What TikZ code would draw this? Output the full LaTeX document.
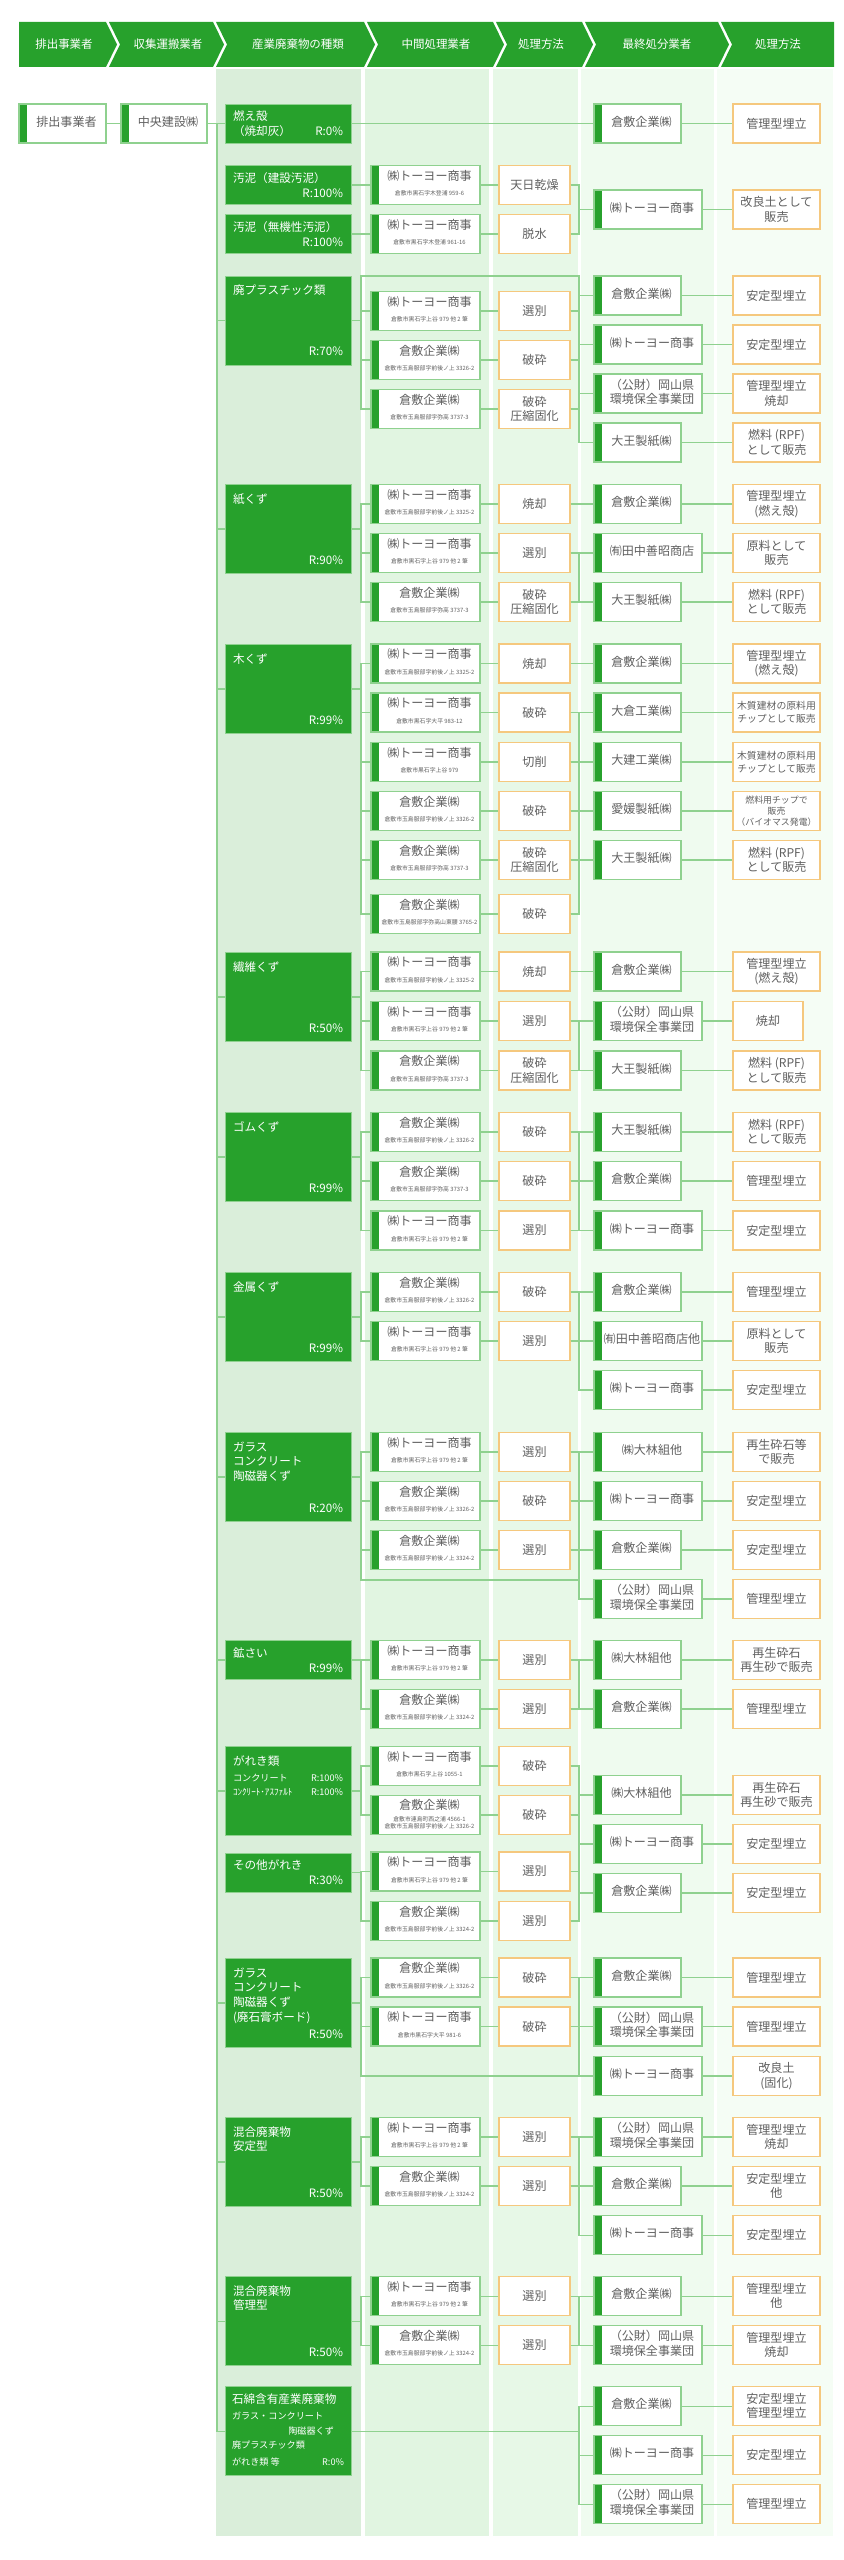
\documentclass[tikz,border=0pt]{standalone}
\usepackage{fontspec}
\setmainfont{Noto Sans CJK JP}
\newlength\pxu
\setlength\pxu{0.03cm}
\definecolor{dgreen}{HTML}{27A12C}
\definecolor{lgreen}{HTML}{8FD18F}
\definecolor{orng}{HTML}{F5C87E}
\definecolor{gtext}{HTML}{606060}
\definecolor{bgA}{HTML}{DAEEDA}
\definecolor{bgB}{HTML}{E1F5E1}
\definecolor{bgC}{HTML}{E7F8E7}
\definecolor{bgD}{HTML}{EFFBEF}
\definecolor{bgE}{HTML}{F5FDF5}
\newcommand\fsz[2]{\fontsize{#1pt}{#2pt}\selectfont}
\newcommand\addr[1]{{\fsz{5}{6}#1}}
\newcommand\firm[2]{\hspace*{8\pxu}\begin{tabular}{@{}c@{}}#1\\[1\pxu]\addr{#2}\end{tabular}}
\newcommand\barred[1]{\hspace*{8\pxu}\begin{tabular}{@{}c@{}}#1\end{tabular}}
\newcommand\ttxt[3]{\parbox[c][#1\pxu][t]{110\pxu}{#2\par\vfill\hspace*{\fill}#3}}
\newcommand\toyo{㈱トーヨー商事}
\newcommand\kura{倉敷企業㈱}
\newcommand\kosai{（公財）岡山県\\環境保全事業団}
\newcommand\adA{倉敷市黒石字上谷 979 他 2 筆}
\newcommand\adB{倉敷市玉島服部字前後ノ上 3326-2}
\newcommand\adC{倉敷市玉島服部字弥高 3737-3}
\newcommand\adD{倉敷市玉島服部字前後ノ上 3325-2}
\newcommand\adE{倉敷市玉島服部字前後ノ上 3324-2}
\begin{document}
\begin{tikzpicture}[x=0.03cm,y=-0.03cm,
  link/.style={draw=lgreen,line width=0.9pt},
  head node/.style={text=white,font=\fsz{9.8}{12}},
  type node/.style={fill=dgreen,draw=lgreen,line width=0.5pt,text=white,inner sep=0pt,minimum width=126\pxu,font=\fsz{9.9}{12.5}},
  tall type/.style={type node,minimum height=89\pxu},
  short type/.style={type node,minimum height=39\pxu},
  firm node/.style={draw=lgreen,fill=white,line width=1pt,inner sep=0pt,minimum height=39\pxu,text=gtext,font=\fsz{10.3}{12.5},
    path picture={\fill[dgreen] (path picture bounding box.south west) rectangle ([xshift=8\pxu]path picture bounding box.north west);}},
  int node/.style={firm node,minimum width=109\pxu},
  narrow node/.style={firm node,minimum width=87\pxu},
  wide node/.style={firm node,minimum width=108\pxu},
  method node/.style={draw=orng,fill=white,line width=1pt,inner sep=0pt,minimum width=71\pxu,minimum height=39\pxu,align=center,text=gtext,font=\fsz{10.3}{12.5}},
  result node/.style={method node,minimum width=87\pxu}]

  \useasboundingbox (0,0) rectangle (844,2560);
  \fill[white] (0,0) rectangle (844,2560);
  \fill[bgA] (216,69) rectangle (361,2536);
  \fill[bgB] (365,69) rectangle (489,2536);
  \fill[bgC] (493,69) rectangle (578,2536);
  \fill[bgD] (581,69) rectangle (714,2536);
  \fill[bgE] (717,69) rectangle (833,2536);

  \fill[dgreen] (19,22) -- (106,22) -- (117,44.5) -- (106,67) -- (19,67) -- cycle;
  \foreach \l/\r in {109/213,216/364,367/493,496/582,585/718}
    \fill[dgreen] (\l,22) -- (\r,22) -- (\r+11,44.5) -- (\r,67) -- (\l,67) -- (\l+11,44.5) -- cycle;
  \fill[dgreen] (721,22) -- (834,22) -- (834,67) -- (721,67) -- (732,44.5) -- cycle;
  \node[head node] (h1) at (64,44.5) {排出事業者};
  \node[head node] (h2) at (168,44.5) {収集運搬業者};
  \node[head node] (h3) at (298,44.5) {産業廃棄物の種類};
  \node[head node] (h4) at (436,44.5) {中間処理業者};
  \node[head node] (h5) at (541,44.5) {処理方法};
  \node[head node] (h6) at (657,44.5) {最終処分業者};
  \node[head node] (h7) at (778,44.5) {処理方法};

  \coordinate (tk) at (217,0);
  \coordinate (tb) at (361,0);
  \coordinate (fb) at (579,0);
  \coordinate (p4) at (361,276);
  \coordinate (p10) at (361,1580);
  \coordinate (p14) at (361,2076);

  \node[narrow node] (s1) at (62.5,123.5) {\barred{排出事業者}};
  \node[firm node,minimum width=86\pxu] (s2) at (164,123.5) {\barred{中央建設㈱}};

  \node[short type] (t1) at (288,123.5) {\parbox[c][25\pxu][t]{110\pxu}{燃え殻\\（焼却灰）\hfill R:0\%}};
  \node[narrow node] (f11) at (637.5,123.5) {\barred{\kura}};
  \node[result node] (r11) at (776.5,123.5) {管理型埋立};

  \node[short type] (t2) at (288,185) {\ttxt{25}{汚泥（建設汚泥）}{R:100\%}};
  \node[short type] (t3) at (288,234) {\ttxt{25}{汚泥（無機性汚泥）}{R:100\%}};
  \node[int node] (i21) at (425.5,185) {\firm{\toyo}{倉敷市黒石字木登浦 959-6}};
  \node[int node] (i31) at (425.5,234) {\firm{\toyo}{倉敷市黒石字木登浦 961-16}};
  \node[method node] (m21) at (534.5,185) {天日乾燥};
  \node[method node] (m31) at (534.5,234) {脱水};
  \node[wide node] (f21) at (648,209.5) {\barred{\toyo}};
  \node[result node] (r21) at (776.5,209.5) {改良土として\\販売};

  \node[tall type] (t4) at (288,320.5) {\ttxt{71}{廃プラスチック類}{R:70\%}};
  \node[int node] (i41) at (425.5,311) {\firm{\toyo}{\adA}};
  \node[int node] (i42) at (425.5,360) {\firm{\kura}{\adB}};
  \node[int node] (i43) at (425.5,409) {\firm{\kura}{\adC}};
  \node[method node] (m41) at (534.5,311) {選別};
  \node[method node] (m42) at (534.5,360) {破砕};
  \node[method node] (m43) at (534.5,409) {破砕\\圧縮固化};
  \node[narrow node] (f41) at (637.5,295.5) {\barred{\kura}};
  \node[wide node] (f42) at (648,344.5) {\barred{\toyo}};
  \node[wide node] (f43) at (648,393.5) {\barred{\kosai}};
  \node[narrow node] (f44) at (637.5,442.5) {\barred{大王製紙㈱}};
  \node[result node] (r41) at (776.5,295.5) {安定型埋立};
  \node[result node] (r42) at (776.5,344.5) {安定型埋立};
  \node[result node] (r43) at (776.5,393.5) {管理型埋立\\焼却};
  \node[result node] (r44) at (776.5,442.5) {燃料 (RPF)\\として販売};

  \node[tall type] (t5) at (288,529) {\ttxt{71}{紙くず}{R:90\%}};
  \node[int node] (i51) at (425.5,504) {\firm{\toyo}{\adD}};
  \node[int node] (i52) at (425.5,553) {\firm{\toyo}{\adA}};
  \node[int node] (i53) at (425.5,602) {\firm{\kura}{\adC}};
  \node[method node] (m51) at (534.5,504) {焼却};
  \node[method node] (m52) at (534.5,553) {選別};
  \node[method node] (m53) at (534.5,602) {破砕\\圧縮固化};
  \node[narrow node] (f51) at (637.5,504) {\barred{\kura}};
  \node[wide node] (f52) at (648,553) {\barred{㈲田中善昭商店}};
  \node[narrow node] (f53) at (637.5,602) {\barred{大王製紙㈱}};
  \node[result node] (r51) at (776.5,504) {管理型埋立\\(燃え殻)};
  \node[result node] (r52) at (776.5,553) {原料として\\販売};
  \node[result node] (r53) at (776.5,602) {燃料 (RPF)\\として販売};

  \node[tall type] (t6) at (288,689) {\ttxt{71}{木くず}{R:99\%}};
  \node[int node] (i61) at (425.5,663.5) {\firm{\toyo}{\adD}};
  \node[int node] (i62) at (425.5,712.5) {\firm{\toyo}{倉敷市黒石字大平 983-12}};
  \node[int node] (i63) at (425.5,762) {\firm{\toyo}{倉敷市黒石字上谷 979}};
  \node[int node] (i64) at (425.5,811) {\firm{\kura}{\adB}};
  \node[int node] (i65) at (425.5,860) {\firm{\kura}{\adC}};
  \node[int node] (i66) at (425.5,914) {\firm{\kura}{倉敷市玉島服部字弥高山東腰 3765-2}};
  \node[method node] (m61) at (534.5,663.5) {焼却};
  \node[method node] (m62) at (534.5,712.5) {破砕};
  \node[method node] (m63) at (534.5,762) {切削};
  \node[method node] (m64) at (534.5,811) {破砕};
  \node[method node] (m65) at (534.5,860) {破砕\\圧縮固化};
  \node[method node] (m66) at (534.5,914) {破砕};
  \node[narrow node] (f61) at (637.5,663.5) {\barred{\kura}};
  \node[narrow node] (f62) at (637.5,712.5) {\barred{大倉工業㈱}};
  \node[narrow node] (f63) at (637.5,762) {\barred{大建工業㈱}};
  \node[narrow node] (f64) at (637.5,811) {\barred{愛媛製紙㈱}};
  \node[narrow node] (f65) at (637.5,860) {\barred{大王製紙㈱}};
  \node[result node] (r61) at (776.5,663.5) {管理型埋立\\(燃え殻)};
  \node[result node,font=\fsz{8.4}{11}] (r62) at (776.5,712.5) {木質建材の原料用\\チップとして販売};
  \node[result node,font=\fsz{8.4}{11}] (r63) at (776.5,762) {木質建材の原料用\\チップとして販売};
  \node[result node,font=\fsz{7.6}{9.5}] (r64) at (776.5,811) {燃料用チップで\\販売\\（バイオマス発電）};
  \node[result node] (r65) at (776.5,860) {燃料 (RPF)\\として販売};

  \node[tall type] (t7) at (288,997) {\ttxt{71}{繊維くず}{R:50\%}};
  \node[int node] (i71) at (425.5,971.5) {\firm{\toyo}{\adD}};
  \node[int node] (i72) at (425.5,1021) {\firm{\toyo}{\adA}};
  \node[int node] (i73) at (425.5,1070.5) {\firm{\kura}{\adC}};
  \node[method node] (m71) at (534.5,971.5) {焼却};
  \node[method node] (m72) at (534.5,1021) {選別};
  \node[method node] (m73) at (534.5,1070.5) {破砕\\圧縮固化};
  \node[narrow node] (f71) at (637.5,971.5) {\barred{\kura}};
  \node[wide node] (f72) at (648,1021) {\barred{\kosai}};
  \node[narrow node] (f73) at (637.5,1070.5) {\barred{大王製紙㈱}};
  \node[result node] (r71) at (776.5,971.5) {管理型埋立\\(燃え殻)};
  \node[result node,minimum width=70\pxu] (r72) at (768,1021) {焼却};
  \node[result node] (r73) at (776.5,1070.5) {燃料 (RPF)\\として販売};

  \node[tall type] (t8) at (288,1157) {\ttxt{71}{ゴムくず}{R:99\%}};
  \node[int node] (i81) at (425.5,1132) {\firm{\kura}{\adB}};
  \node[int node] (i82) at (425.5,1181) {\firm{\kura}{\adC}};
  \node[int node] (i83) at (425.5,1230.5) {\firm{\toyo}{\adA}};
  \node[method node] (m81) at (534.5,1132) {破砕};
  \node[method node] (m82) at (534.5,1181) {破砕};
  \node[method node] (m83) at (534.5,1230.5) {選別};
  \node[narrow node] (f81) at (637.5,1132) {\barred{大王製紙㈱}};
  \node[narrow node] (f82) at (637.5,1181) {\barred{\kura}};
  \node[wide node] (f83) at (648,1230.5) {\barred{\toyo}};
  \node[result node] (r81) at (776.5,1132) {燃料 (RPF)\\として販売};
  \node[result node] (r82) at (776.5,1181) {管理型埋立};
  \node[result node] (r83) at (776.5,1230.5) {安定型埋立};

  \node[tall type] (t9) at (288,1317) {\ttxt{71}{金属くず}{R:99\%}};
  \node[int node] (i91) at (425.5,1292) {\firm{\kura}{\adB}};
  \node[int node] (i92) at (425.5,1341) {\firm{\toyo}{\adA}};
  \node[method node] (m91) at (534.5,1292) {破砕};
  \node[method node] (m92) at (534.5,1341) {選別};
  \node[narrow node] (f91) at (637.5,1292) {\barred{\kura}};
  \node[wide node] (f92) at (648,1341) {\barred{㈲田中善昭商店他}};
  \node[wide node] (f93) at (648,1390) {\barred{\toyo}};
  \node[result node] (r91) at (776.5,1292) {管理型埋立};
  \node[result node] (r92) at (776.5,1341) {原料として\\販売};
  \node[result node] (r93) at (776.5,1390) {安定型埋立};

  \node[tall type] (t10) at (288,1477) {\ttxt{71}{ガラス\\コンクリート\\陶磁器くず}{R:20\%}};
  \node[int node] (i101) at (425.5,1452) {\firm{\toyo}{\adA}};
  \node[int node] (i102) at (425.5,1501) {\firm{\kura}{\adB}};
  \node[int node] (i103) at (425.5,1550) {\firm{\kura}{\adE}};
  \node[method node] (m101) at (534.5,1452) {選別};
  \node[method node] (m102) at (534.5,1501) {破砕};
  \node[method node] (m103) at (534.5,1550) {選別};
  \node[wide node] (f101) at (648,1452) {\barred{㈱大林組他}};
  \node[wide node] (f102) at (648,1501) {\barred{\toyo}};
  \node[narrow node] (f103) at (637.5,1550) {\barred{\kura}};
  \node[wide node] (f104) at (648,1599) {\barred{\kosai}};
  \node[result node] (r101) at (776.5,1452) {再生砕石等\\で販売};
  \node[result node] (r102) at (776.5,1501) {安定型埋立};
  \node[result node] (r103) at (776.5,1550) {安定型埋立};
  \node[result node] (r104) at (776.5,1599) {管理型埋立};

  \node[short type] (t11) at (288,1660) {\ttxt{25}{鉱さい}{R:99\%}};
  \node[int node] (i111) at (425.5,1660) {\firm{\toyo}{\adA}};
  \node[int node] (i112) at (425.5,1709) {\firm{\kura}{\adE}};
  \node[method node] (m111) at (534.5,1660) {選別};
  \node[method node] (m112) at (534.5,1709) {選別};
  \node[narrow node] (f111) at (637.5,1660) {\barred{㈱大林組他}};
  \node[narrow node] (f112) at (637.5,1709) {\barred{\kura}};
  \node[result node] (r111) at (776.5,1660) {再生砕石\\再生砂で販売};
  \node[result node] (r112) at (776.5,1709) {管理型埋立};

  \node[tall type] (t12) at (288,1791) {\parbox[c][71\pxu][t]{110\pxu}{がれき類\\[1pt]
    {\fsz{7.8}{12.5}コンクリート\hfill R:100\%}\\
    {\fsz{7.8}{12.5}ｺﾝｸﾘｰﾄ･ｱｽﾌｧﾙﾄ\hfill R:100\%}}};
  \node[int node] (i121) at (425.5,1766) {\firm{\toyo}{倉敷市黒石字上谷 1055-1}};
  \node[int node] (i122) at (425.5,1815) {\firm{\kura}{\begin{tabular}{@{}c@{}}倉敷市連島町西之浦 4566-1\\\adB\end{tabular}}};
  \node[method node] (m121) at (534.5,1766) {破砕};
  \node[method node] (m122) at (534.5,1815) {破砕};
  \node[short type] (t13) at (288,1872.5) {\ttxt{25}{その他がれき}{R:30\%}};
  \node[int node] (i131) at (425.5,1871.5) {\firm{\toyo}{\adA}};
  \node[int node] (i132) at (425.5,1921) {\firm{\kura}{\adE}};
  \node[method node] (m131) at (534.5,1871.5) {選別};
  \node[method node] (m132) at (534.5,1921) {選別};
  \node[narrow node] (f121) at (637.5,1795) {\barred{㈱大林組他}};
  \node[wide node] (f122) at (648,1844) {\barred{\toyo}};
  \node[narrow node] (f123) at (637.5,1893) {\barred{\kura}};
  \node[result node] (r121) at (776.5,1795) {再生砕石\\再生砂で販売};
  \node[result node] (r122) at (776.5,1844) {安定型埋立};
  \node[result node] (r123) at (776.5,1893) {安定型埋立};

  \node[tall type] (t14) at (288,2003) {\ttxt{71}{ガラス\\コンクリート\\陶磁器くず\\(廃石膏ボード)}{R:50\%}};
  \node[int node] (i141) at (425.5,1977.5) {\firm{\kura}{\adB}};
  \node[int node] (i142) at (425.5,2026.5) {\firm{\toyo}{倉敷市黒石字大平 981-6}};
  \node[method node] (m141) at (534.5,1977.5) {破砕};
  \node[method node] (m142) at (534.5,2026.5) {破砕};
  \node[narrow node] (f141) at (637.5,1977.5) {\barred{\kura}};
  \node[wide node] (f142) at (648,2026.5) {\barred{\kosai}};
  \node[wide node] (f143) at (648,2076) {\barred{\toyo}};
  \node[result node] (r141) at (776.5,1977.5) {管理型埋立};
  \node[result node] (r142) at (776.5,2026.5) {管理型埋立};
  \node[result node] (r143) at (776.5,2076) {改良土\\(固化)};

  \node[tall type] (t15) at (288,2162) {\ttxt{71}{混合廃棄物\\安定型}{R:50\%}};
  \node[int node] (i151) at (425.5,2137) {\firm{\toyo}{\adA}};
  \node[int node] (i152) at (425.5,2186) {\firm{\kura}{\adE}};
  \node[method node] (m151) at (534.5,2137) {選別};
  \node[method node] (m152) at (534.5,2186) {選別};
  \node[wide node] (f151) at (648,2137) {\barred{\kosai}};
  \node[narrow node] (f152) at (637.5,2186) {\barred{\kura}};
  \node[wide node] (f153) at (648,2235) {\barred{\toyo}};
  \node[result node] (r151) at (776.5,2137) {管理型埋立\\焼却};
  \node[result node] (r152) at (776.5,2186) {安定型埋立\\他};
  \node[result node] (r153) at (776.5,2235) {安定型埋立};

  \node[tall type] (t16) at (288,2321) {\ttxt{71}{混合廃棄物\\管理型}{R:50\%}};
  \node[int node] (i161) at (425.5,2296) {\firm{\toyo}{\adA}};
  \node[int node] (i162) at (425.5,2345) {\firm{\kura}{\adE}};
  \node[method node] (m161) at (534.5,2296) {選別};
  \node[method node] (m162) at (534.5,2345) {選別};
  \node[narrow node] (f161) at (637.5,2296) {\barred{\kura}};
  \node[wide node] (f162) at (648,2345) {\barred{\kosai}};
  \node[result node] (r161) at (776.5,2296) {管理型埋立\\他};
  \node[result node] (r162) at (776.5,2345) {管理型埋立\\焼却};

  \node[tall type] (t17) at (288,2431) {\parbox[c][75\pxu][t]{112\pxu}{石綿含有産業廃棄物\\[1.5pt]
    {\fsz{7.8}{12.5}ガラス・コンクリート}\\
    {\fsz{7.8}{12.5}\hspace*{\fill}陶磁器くず\hspace*{10\pxu}}\\
    {\fsz{7.8}{12.5}廃プラスチック類}\\[1.5pt]
    {\fsz{7.8}{12.5}がれき類 等\hfill R:0\%}}};
  \node[narrow node] (f171) at (637.5,2406) {\barred{\kura}};
  \node[wide node] (f172) at (648,2455) {\barred{\toyo}};
  \node[wide node] (f173) at (648,2504) {\barred{\kosai}};
  \node[result node] (r171) at (776.5,2406) {安定型埋立\\管理型埋立};
  \node[result node] (r172) at (776.5,2455) {安定型埋立};
  \node[result node] (r173) at (776.5,2504) {管理型埋立};

  \draw[link] (s1) -- (s2);
  \draw[link] (t1) -- (f11);
  \foreach \t in {t1,t4,t5,t6,t7,t8,t9,t10,t11,t12,t14,t15,t16,t17}
    \draw[link] (s2.east) -- (s2.east -| tk) |- (\t.west);
  \foreach \t/\l in {t2/{i21},t3/{i31},t4/{i41,i42,i43},t5/{i51,i52,i53},t6/{i61,i62,i63,i64,i65,i66},
      t7/{i71,i72,i73},t8/{i81,i82,i83},t9/{i91,i92},t10/{i101,i102,i103},t11/{i111,i112},
      t12/{i121,i122},t13/{i131,i132},t14/{i141,i142},t15/{i151,i152},t16/{i161,i162}}
    {\foreach \i in \l {\draw[link] (\t.east) -- (\t.east -| tb) |- (\i.west);}}
  \foreach \n in {21,31,41,42,43,51,52,53,61,62,63,64,65,66,71,72,73,81,82,83,91,92,
      101,102,103,111,112,121,122,131,132,141,142,151,152,161,162}
    \draw[link] (i\n) -- (m\n);
  \foreach \ms/\fs in {{m21,m31}/{f21},{m41,m42,m43}/{f41,f42,f43,f44},{m52,m53}/{f52,f53},
      {m62,m63,m64,m65,m66}/{f62,f63,f64,f65},{m72,m73}/{f72,f73},{m81,m82,m83}/{f81,f82,f83},
      {m91,m92}/{f91,f92,f93},{m101,m102,m103}/{f101,f102,f103,f104},{m111,m112}/{f111,f112},
      {m121,m122,m131,m132}/{f121,f122,f123},{m141,m142}/{f141,f142,f143},
      {m151,m152}/{f151,f152,f153},{m161,m162}/{f161,f162}}
    {\foreach \m in \ms {\foreach \f in \fs {\draw[link] (\m.east) -- (\m.east -| fb) |- (\f.west);}}}
  \foreach \n in {51,61,71}
    \draw[link] (m\n) -- (f\n);
  \foreach \n in {11,21,41,42,43,44,51,52,53,61,62,63,64,65,71,72,73,81,82,83,91,92,93,
      101,102,103,104,111,112,121,122,123,141,142,143,151,152,153,161,162,171,172,173}
    \draw[link] (f\n) -- (r\n);
  \draw[link] (t4.east) -- (t4.east -| tb) -- (p4) -- (p4 -| fb) |- (f41.west);
  \draw[link] (t10.east) -- (t10.east -| tb) -- (p10) -- (p10 -| fb) |- (f104.west);
  \draw[link] (t14.east) -- (t14.east -| tb) -- (p14) -- (p14 -| f143.west);
  \foreach \f in {f171,f172,f173}
    \draw[link] (t17.east) -- (t17.east -| fb) |- (\f.west);
\end{tikzpicture}
\end{document}
